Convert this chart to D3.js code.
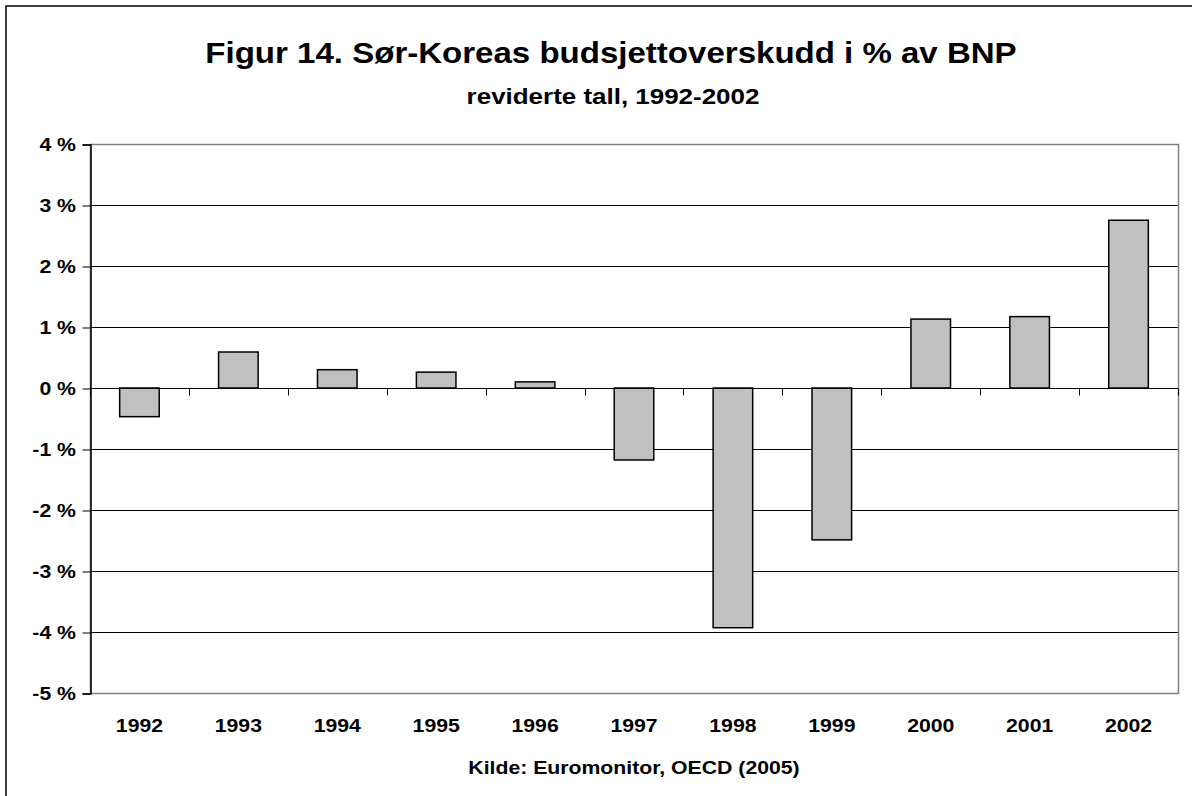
<!DOCTYPE html>
<html>
<head>
<meta charset="utf-8">
<script src="https://cdn.jsdelivr.net/npm/d3@7/dist/d3.min.js"></script>
<style>
  html, body { margin: 0; padding: 0; background: #fff; }
  text { font-family: "Liberation Sans", Arial, sans-serif; font-weight: bold; fill: #000; }
</style>
</head>
<body>
<svg id="chart" width="1192" height="796"></svg>
<script>
const years = ["1992","1993","1994","1995","1996","1997","1998","1999","2000","2001","2002"];
const surplus = [-0.47, 0.59, 0.30, 0.26, 0.10, -1.18, -3.93, -2.49, 1.13, 1.17, 2.75];
const yTicks = [4, 3, 2, 1, 0, -1, -2, -3, -4, -5];
const titleText = "Figur 14. Sør-Koreas budsjettoverskudd i % av BNP";
const subtitleText = "reviderte tall, 1992-2002";
const sourceText = "Kilde: Euromonitor, OECD (2005)";

(function () {
const svg = d3.select("#chart");
const pLeft = 90, pRight = 1178, pTop = 144, pBottom = 693;

// outer border
svg.append("rect").attr("x", 6).attr("y", 6).attr("width", 1200).attr("height", 800)
  .attr("fill", "none").attr("stroke", "#000").attr("stroke-width", 1.5);

const x = d3.scaleBand().domain(years).range([pLeft, pRight]).paddingInner(0.6).paddingOuter(0.3);
const y = d3.scaleLinear().domain([-5, 4]).range([pBottom, pTop]);

function stretchedText(g, tx, ty, txt, size, sx, anchor) {
  return g.append("text")
    .attr("transform", `translate(${tx},${ty}) scale(${sx},1)`)
    .attr("text-anchor", anchor || "middle")
    .style("font-size", size + "px")
    .text(txt);
}

// gridlines
svg.append("g").selectAll("line").data(yTicks.filter(t => t !== -5)).join("line")
  .attr("x1", pLeft).attr("x2", pRight)
  .attr("y1", d => Math.round(y(d)) + 0.5).attr("y2", d => Math.round(y(d)) + 0.5)
  .attr("stroke", "#000").attr("stroke-width", 1);

// plot area border (gray)
svg.append("rect").attr("x", pLeft + 0.5).attr("y", pTop + 0.5)
  .attr("width", pRight - pLeft).attr("height", pBottom - pTop)
  .attr("fill", "none").attr("stroke", "#808080").attr("stroke-width", 1.5);

// bars
svg.append("g").selectAll("rect").data(years).join("rect")
  .attr("x", (d) => x(d))
  .attr("width", x.bandwidth())
  .attr("y", (d, i) => y(Math.max(0, surplus[i])))
  .attr("height", (d, i) => Math.abs(y(surplus[i]) - y(0)))
  .attr("fill", "#c0c0c0").attr("stroke", "#000").attr("stroke-width", 1.5);

// y axis
const yAxis = d3.axisLeft(y).tickValues(yTicks).tickSize(8).tickFormat(d => d + " %");
const yg = svg.append("g").attr("transform", `translate(${pLeft + 0.5},0.5)`).call(yAxis);
yg.select(".domain").attr("stroke", "#000").attr("stroke-width", 1.5);
yg.selectAll(".tick line").attr("stroke", "#000");
yg.selectAll(".tick text").remove();
yTicks.forEach(t => {
  stretchedText(svg, 76, y(t) + 6.5, t + " %", 18, 1.18, "end");
});

// category axis at zero
const zeroY = Math.round(y(0)) + 0.5;
svg.append("line").attr("x1", pLeft).attr("x2", pRight).attr("y1", zeroY).attr("y2", zeroY)
  .attr("stroke", "#000").attr("stroke-width", 1);
const boundaries = years.map(d => x(d) + x.bandwidth() / 2 - x.step() / 2).concat([pRight]);
svg.append("g").selectAll("line").data(boundaries).join("line")
  .attr("x1", d => Math.round(d) + 0.5).attr("x2", d => Math.round(d) + 0.5)
  .attr("y1", zeroY).attr("y2", zeroY + 7)
  .attr("stroke", "#000").attr("stroke-width", 1);

// x labels
years.forEach(yr => {
  stretchedText(svg, x(yr) + x.bandwidth() / 2, 732, yr, 18, 1.18);
});

// titles
stretchedText(svg, 611, 63, titleText, 29.5, 1.12);
stretchedText(svg, 613, 104, subtitleText, 22, 1.18);
stretchedText(svg, (pLeft + pRight) / 2, 774, sourceText, 18, 1.18);
})();
</script>
</body>
</html>
